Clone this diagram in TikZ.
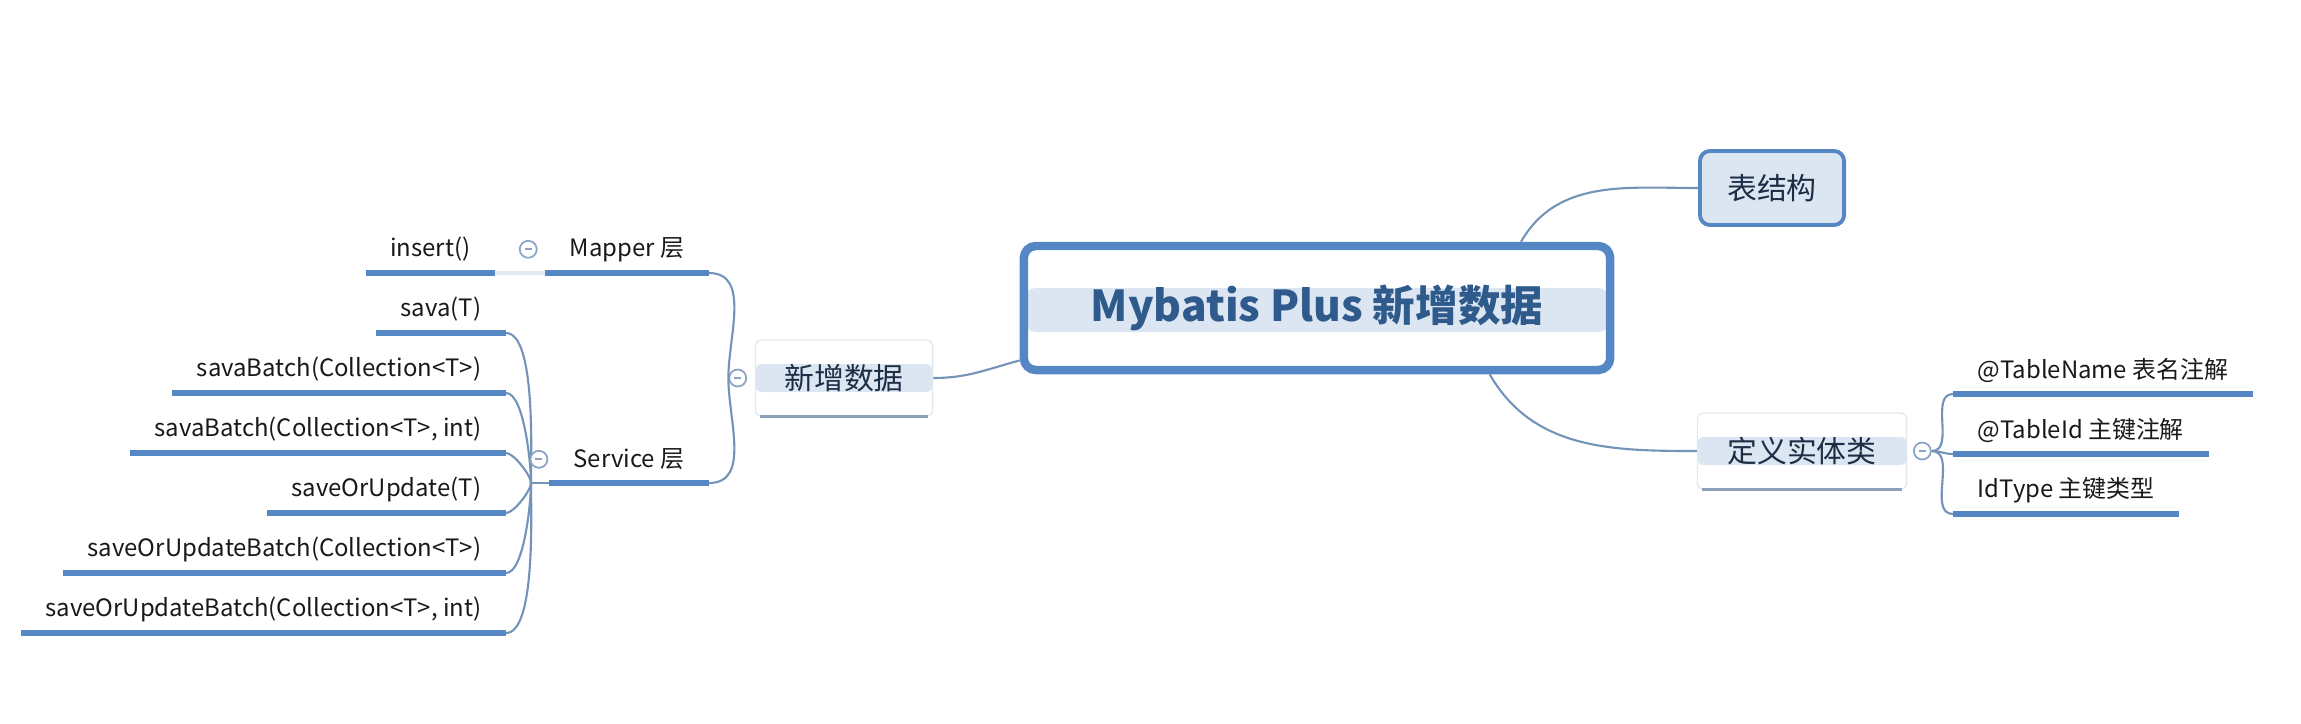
\documentclass[tikz,border=0pt]{standalone}
\usepackage{fontspec}
\setmainfont{Noto Sans CJK SC}
\usepackage{tikz}

\definecolor{lineblue}{HTML}{5587C4}
\definecolor{linkgray}{HTML}{7393B9}
\definecolor{bandblue}{HTML}{DCE6F2}
\definecolor{titleblue}{HTML}{2F5A8C}
\definecolor{foldgray}{HTML}{8BA3C4}
\definecolor{edgegray}{HTML}{8CA0BA}
\definecolor{softgray}{HTML}{E2E9F1}
\definecolor{darktext}{HTML}{1C2E45}

\begin{document}
\begin{tikzpicture}[x=0.01cm, y=-0.01cm,
  root node/.style={draw=lineblue, line width=2.4pt, rounded corners=0.12cm,
    minimum width=5.86cm, minimum height=1.24cm, text=titleblue,
    font=\fontsize{12.1}{14}\selectfont\bfseries,
    path picture={\fill[bandblue] ([yshift=0.2cm]path picture bounding box.west)
      rectangle ([yshift=-0.24cm]path picture bounding box.east);}},
  topic node/.style={draw=softgray, fill=white, rounded corners=0.06cm,
    minimum height=0.76cm, text=darktext, font=\fontsize{8.5}{10}\selectfont,
    path picture={\fill[bandblue] ([yshift=0.14cm]path picture bounding box.west)
      rectangle ([yshift=-0.14cm]path picture bounding box.east);}},
  box node/.style={draw=lineblue, line width=1.1pt, fill=bandblue, rounded corners=0.1cm,
    minimum width=1.44cm, minimum height=0.74cm, text=darktext,
    font=\fontsize{8.5}{10}\selectfont},
  leaf node/.style={inner xsep=0.24cm, inner ysep=0pt, minimum height=0.46cm,
    text=black!90, font=\fontsize{6.8}{8}\selectfont},
  fold btn/.style={circle, draw=foldgray, line width=0.5pt, fill=white,
    minimum size=0.17cm, inner sep=0pt,
    path picture={\draw[foldgray, line width=0.5pt]
      ([xshift=-0.035cm]path picture bounding box.center) --
      ([xshift=0.035cm]path picture bounding box.center);}},
  link/.style={draw=linkgray, line width=0.6pt},
  uline/.style={draw=lineblue, line width=1.6pt},
]
\useasboundingbox (0,0) rectangle (2301,723);

% centre and first level
\node[root node] (root) at (1317,308) {Mybatis Plus 新增数据};
\node[box node] (schema) at (1772,188) {表结构};
\node[topic node, minimum width=2.09cm] (entity) at (1802,451) {定义实体类};
\node[topic node, minimum width=1.77cm] (insertdata) at (844,378) {新增数据};
\draw[edgegray, line width=0.9pt] ([xshift=0.05cm]entity.south west) -- ([xshift=-0.05cm]entity.south east);
\draw[edgegray, line width=0.9pt] ([xshift=0.05cm]insertdata.south west) -- ([xshift=-0.05cm]insertdata.south east);

\path[link] (root.18) edge[out=60, in=180] (schema.west)
            (root.190) edge[out=195, in=0] (insertdata.east)
            (root.-21) edge[out=-60, in=180] (entity.west);

% left branch
\node[fold btn] (f0) at ([xshift=-0.17cm]insertdata.west) {};
\node[leaf node, anchor=south east] (mapper) at (709,273) {Mapper 层};
\node[leaf node, anchor=south east] (service) at (709,483) {Service 层};
\draw[link] (mapper.south east) to[out=0, in=90] (f0.west);
\draw[link] (service.south east) to[out=0, in=270] (f0.west);

\node[leaf node, anchor=south east] (ins) at (495,273) {insert()};
\draw[softgray, line width=1.2pt] (ins.south east) -- (mapper.south west);

\foreach \txt [count=\i] in {sava(T), savaBatch(Collection<T>), {savaBatch(Collection<T>, int)},
    saveOrUpdate(T), saveOrUpdateBatch(Collection<T>), {saveOrUpdateBatch(Collection<T>, int)}}
  \node[leaf node, anchor=south east] (sv\i) at (506,273+60*\i) {\txt};

\coordinate (svfork) at (531,483);
\draw[link] (svfork) -- (service.south west);
\foreach \i in {1,2,3}
  \draw[link] (sv\i.south east) to[out=0, in=90, looseness=0.5] (svfork);
\foreach \i in {4,5,6}
  \draw[link] (sv\i.south east) to[out=0, in=270, looseness=0.5] (svfork);

\node[fold btn] (f1) at ([xshift=-0.17cm]mapper.west) {};
\node[fold btn] (f2) at ([xshift=-0.1cm]service.west) {};

% right branch
\node[fold btn] (f3) at ([xshift=0.15cm]entity.east) {};
\foreach \txt [count=\i] in {@TableName 表名注解, @TableId 主键注解, IdType 主键类型}
  \node[leaf node, anchor=south west] (ann\i) at (1953,334+60*\i) {\txt};
\foreach \i in {1,2,3}
  \draw[link] (f3.east) to[out=0, in=180] (ann\i.south west);

% underlines
\foreach \n in {mapper, service, ins, sv1, sv2, sv3, sv4, sv5, sv6, ann1, ann2, ann3}
  \draw[uline] (\n.south west) -- (\n.south east);
\end{tikzpicture}
\end{document}
